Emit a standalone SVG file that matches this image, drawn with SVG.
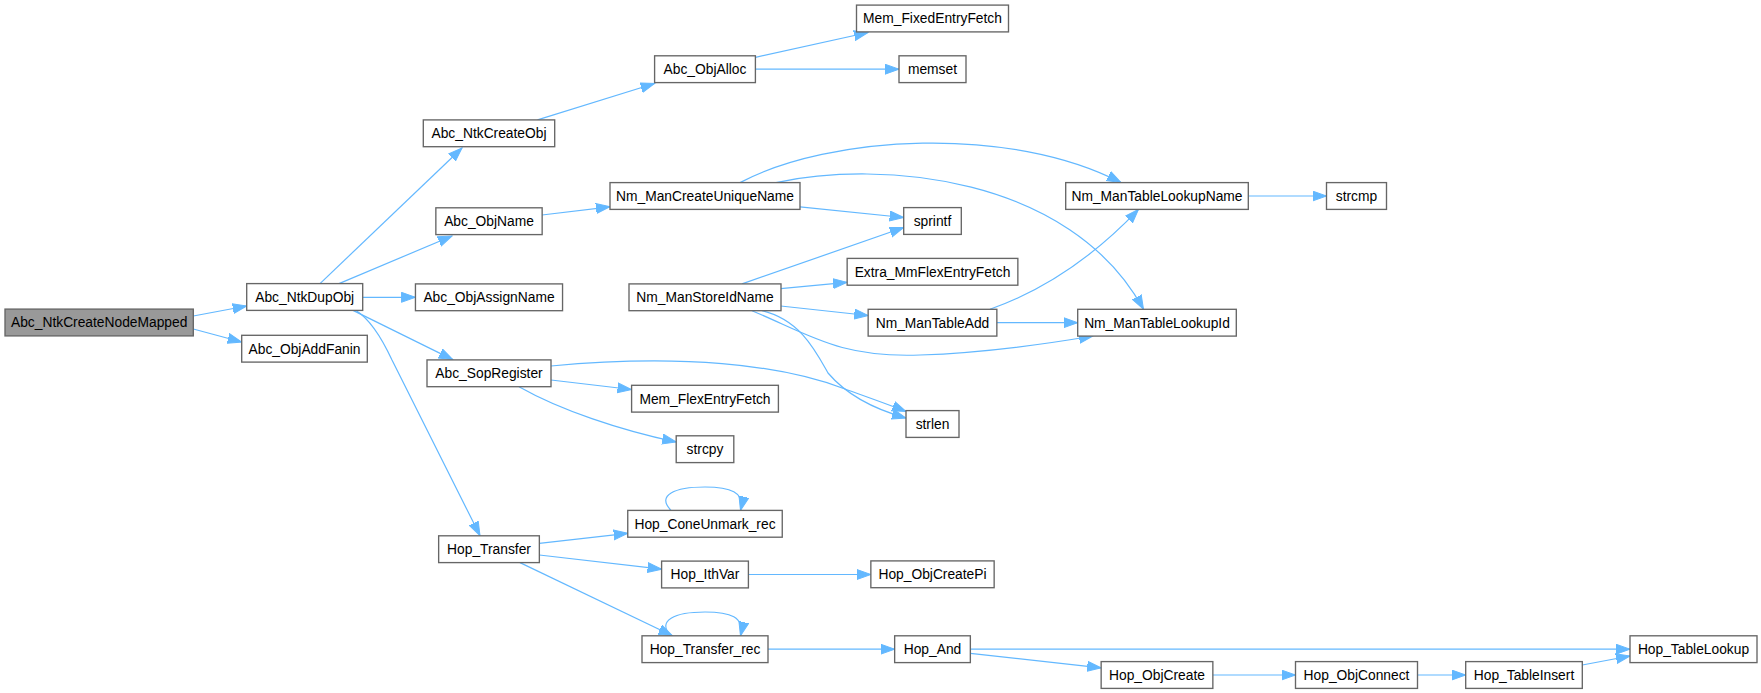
<svg xmlns="http://www.w3.org/2000/svg" width="1761" height="693" viewBox="0 0 1761 693">
<defs>
<style>
.node rect{fill:#ffffff;stroke:#666666;stroke-width:1.35}
.root rect{fill:#999999}
.node text{font-family:"Liberation Sans",Arial,sans-serif;font-size:13.8px;text-anchor:middle;fill:#000000}
.edges path{fill:none;stroke:#63b8ff;stroke-width:1.2;marker-end:url(#arr)}
</style>
<marker id="arr" markerUnits="userSpaceOnUse" markerWidth="15" markerHeight="12" refX="14" refY="5.5" orient="auto">
<path d="M0,0.5 L14,5.5 L0,10.5 z" fill="#63b8ff" stroke="#63b8ff" stroke-width="1"/>
</marker>
</defs>
<rect width="1761" height="693" fill="#ffffff"/>
<g class="edges">
<path d="M193.3,316 L246.7,306"/>
<path d="M193.3,329 L241.7,342"/>
<path d="M320,283.6 L462,148"/>
<path d="M339,283.6 L452,236"/>
<path d="M362.7,297.3 L415.4,297.3"/>
<path d="M353,310.4 L452.8,359.6"/>
<path d="M356,310.4 C368,318 380,334 392,360 L480,535.6"/>
<path d="M537.5,119.9 L654.6,83.5"/>
<path d="M755.4,57.3 L868,32.5"/>
<path d="M755.4,69.2 L899,69.2"/>
<path d="M542,215 L610,206.8"/>
<path d="M740,182.6 C830,135 1010,125 1121,182.6"/>
<path d="M776,182.6 C880,160 1070,175 1143.5,309.3"/>
<path d="M800,206.8 L903.7,217.5"/>
<path d="M742,283.9 L903.7,227.5"/>
<path d="M780.7,288.6 L847,282.3"/>
<path d="M780.7,306 L868.2,315.5"/>
<path d="M752,310.7 C810,335 840,358 920,355 C980,353 1040,345 1093,336"/>
<path d="M762,310.7 C800,320 815,350 828,373 C845,393 870,408 906,418"/>
<path d="M551,366 C680,354 780,364 845,389 C870,398 890,405 906,411.5"/>
<path d="M551,380 L631.6,389.5"/>
<path d="M519,386.7 C560,410 620,430 676.2,442"/>
<path d="M539.3,543.3 L627.75,533.3"/>
<path d="M539.3,555 L661.6,569.2"/>
<path d="M520,562.6 L672.5,635.8"/>
<path d="M671,510.4 C656,495 675,487 705,487 C730,487 745,492 740.5,510.4"/>
<path d="M671,635.8 C656,620.5 675,612 705,612 C730,612 745,617 740.5,635.8"/>
<path d="M748.4,574.5 L870.85,574.5"/>
<path d="M768,649.2 L894.65,649.2"/>
<path d="M970.4,649.2 L1630,649.2"/>
<path d="M970.4,653.3 L1101.15,667.8"/>
<path d="M1212.9,675 L1295.5,675"/>
<path d="M1417.5,675 L1465.7,675"/>
<path d="M1582.3,665 L1630,656"/>
<path d="M1248.3,196 L1326.5,196"/>
<path d="M990,309.3 C1050,288 1100,250 1138.5,209.4"/>
<path d="M996.9,322.7 L1077.7,322.7"/>
</g>
<g id="n_Abc_NtkCreateNodeMapped" class="node root"><rect x="5" y="309.1" width="188.3" height="26.8"/><text x="99.2" y="327.3">Abc_NtkCreateNodeMapped</text></g>
<g id="n_Abc_NtkDupObj" class="node"><rect x="246.7" y="283.6" width="116" height="26.8"/><text x="304.7" y="301.8">Abc_NtkDupObj</text></g>
<g id="n_Abc_ObjAddFanin" class="node"><rect x="241.7" y="335.3" width="125.6" height="26.8"/><text x="304.5" y="353.5">Abc_ObjAddFanin</text></g>
<g id="n_Abc_NtkCreateObj" class="node"><rect x="423.3" y="119.9" width="131.4" height="26.8"/><text x="489" y="138.1">Abc_NtkCreateObj</text></g>
<g id="n_Abc_ObjName" class="node"><rect x="435.85" y="207.8" width="106.3" height="26.8"/><text x="489" y="226">Abc_ObjName</text></g>
<g id="n_Abc_ObjAssignName" class="node"><rect x="415.45" y="283.9" width="147.1" height="26.8"/><text x="489" y="302.1">Abc_ObjAssignName</text></g>
<g id="n_Abc_SopRegister" class="node"><rect x="427" y="359.9" width="124" height="26.8"/><text x="489" y="378.1">Abc_SopRegister</text></g>
<g id="n_Hop_Transfer" class="node"><rect x="438.65" y="535.8" width="100.7" height="26.8"/><text x="489" y="554">Hop_Transfer</text></g>
<g id="n_Abc_ObjAlloc" class="node"><rect x="654.6" y="55.8" width="100.8" height="26.8"/><text x="705" y="74">Abc_ObjAlloc</text></g>
<g id="n_Nm_ManCreateUniqueName" class="node"><rect x="610" y="182.6" width="190" height="26.8"/><text x="705" y="200.8">Nm_ManCreateUniqueName</text></g>
<g id="n_Nm_ManStoreIdName" class="node"><rect x="629" y="283.9" width="152" height="26.8"/><text x="705" y="302.1">Nm_ManStoreIdName</text></g>
<g id="n_Mem_FlexEntryFetch" class="node"><rect x="631.6" y="385.3" width="146.8" height="26.8"/><text x="705" y="403.5">Mem_FlexEntryFetch</text></g>
<g id="n_strcpy" class="node"><rect x="676.2" y="435.8" width="57.6" height="26.8"/><text x="705" y="454">strcpy</text></g>
<g id="n_Hop_ConeUnmark_rec" class="node"><rect x="627.75" y="510.4" width="154.5" height="26.8"/><text x="705" y="528.6">Hop_ConeUnmark_rec</text></g>
<g id="n_Hop_IthVar" class="node"><rect x="661.6" y="561.1" width="86.8" height="26.8"/><text x="705" y="579.3">Hop_IthVar</text></g>
<g id="n_Hop_Transfer_rec" class="node"><rect x="642" y="635.8" width="126" height="26.8"/><text x="705" y="654">Hop_Transfer_rec</text></g>
<g id="n_Mem_FixedEntryFetch" class="node"><rect x="856.5" y="5.1" width="152" height="26.8"/><text x="932.5" y="23.3">Mem_FixedEntryFetch</text></g>
<g id="n_memset" class="node"><rect x="899" y="55.8" width="67" height="26.8"/><text x="932.5" y="74">memset</text></g>
<g id="n_sprintf" class="node"><rect x="903.7" y="207.6" width="57.6" height="26.8"/><text x="932.5" y="225.8">sprintf</text></g>
<g id="n_Extra_MmFlexEntryFetch" class="node"><rect x="847.15" y="258.4" width="170.7" height="26.8"/><text x="932.5" y="276.6">Extra_MmFlexEntryFetch</text></g>
<g id="n_Nm_ManTableAdd" class="node"><rect x="868.15" y="309.3" width="128.7" height="26.8"/><text x="932.5" y="327.5">Nm_ManTableAdd</text></g>
<g id="n_strlen" class="node"><rect x="906" y="410.6" width="53" height="26.8"/><text x="932.5" y="428.8">strlen</text></g>
<g id="n_Hop_ObjCreatePi" class="node"><rect x="870.85" y="560.9" width="123.3" height="26.8"/><text x="932.5" y="579.1">Hop_ObjCreatePi</text></g>
<g id="n_Hop_And" class="node"><rect x="894.65" y="635.8" width="75.7" height="26.8"/><text x="932.5" y="654">Hop_And</text></g>
<g id="n_Nm_ManTableLookupName" class="node"><rect x="1065.7" y="182.6" width="182.6" height="26.8"/><text x="1157" y="200.8">Nm_ManTableLookupName</text></g>
<g id="n_Nm_ManTableLookupId" class="node"><rect x="1077.7" y="309.3" width="158.6" height="26.8"/><text x="1157" y="327.5">Nm_ManTableLookupId</text></g>
<g id="n_Hop_ObjCreate" class="node"><rect x="1101.15" y="661.6" width="111.7" height="26.8"/><text x="1157" y="679.8">Hop_ObjCreate</text></g>
<g id="n_strcmp" class="node"><rect x="1326.5" y="182.6" width="60" height="26.8"/><text x="1356.5" y="200.8">strcmp</text></g>
<g id="n_Hop_ObjConnect" class="node"><rect x="1295.5" y="661.6" width="122" height="26.8"/><text x="1356.5" y="679.8">Hop_ObjConnect</text></g>
<g id="n_Hop_TableInsert" class="node"><rect x="1465.7" y="661.6" width="116.6" height="26.8"/><text x="1524" y="679.8">Hop_TableInsert</text></g>
<g id="n_Hop_TableLookup" class="node"><rect x="1630" y="635.8" width="127" height="26.8"/><text x="1693.5" y="654">Hop_TableLookup</text></g>
</svg>
